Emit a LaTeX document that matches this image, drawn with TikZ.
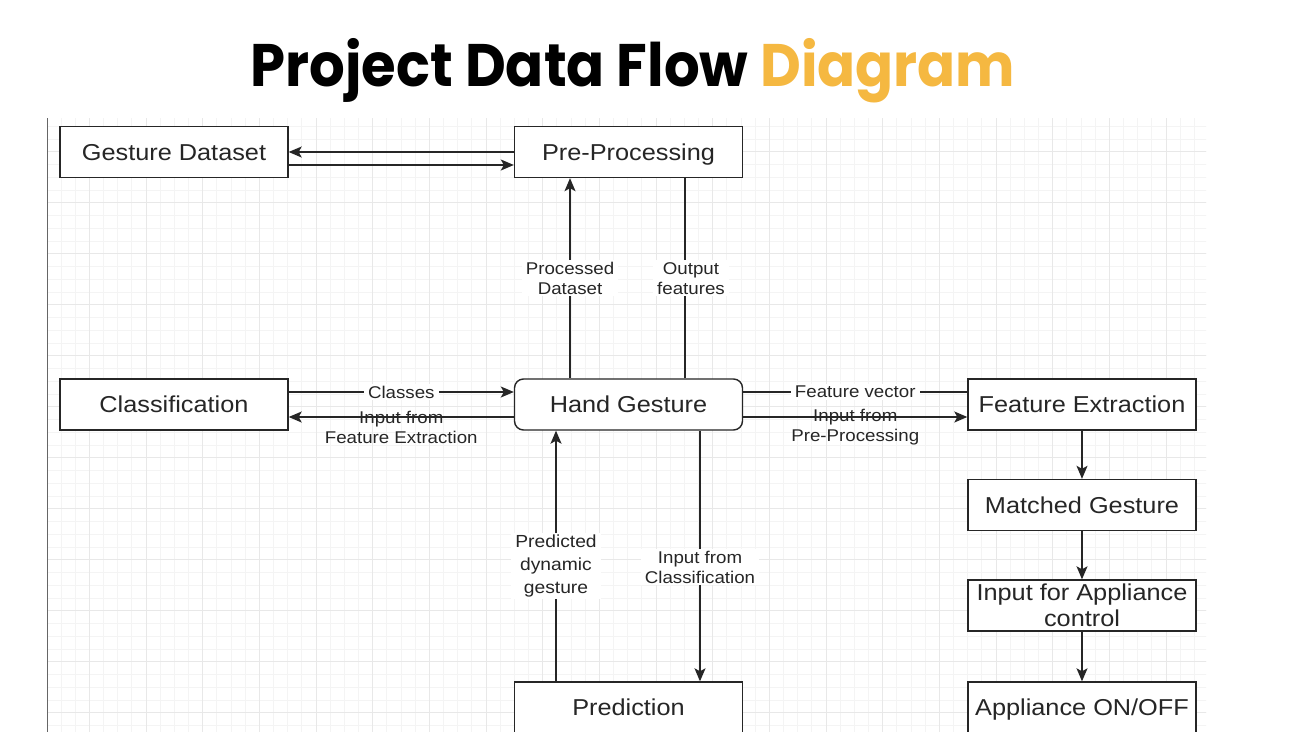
\documentclass[tikz,border=0pt]{standalone}
\usepackage{fontspec}
\setmainfont{Liberation Sans}[FakeStretch=1.1]
\newfontfamily\titlefont{Poppins}
\usetikzlibrary{arrows.meta}
\definecolor{ttlorange}{HTML}{F5B841}
\definecolor{ink}{HTML}{262626}
\definecolor{gridminor}{HTML}{F4F4F4}
\definecolor{gridmajor}{HTML}{E8E8E8}
\begin{document}
\begin{tikzpicture}[x=1pt,y=-1pt,
  boxbase/.style={draw=ink, line width=1.4pt, fill=white, minimum width=228pt, minimum height=51pt, inner sep=0pt, text=ink, font=\fontsize{23}{26}\selectfont, align=center},
  box/.style={boxbase, text height=16.5pt, text depth=0pt},
  rbox/.style={box, rounded corners=9pt},
  conn/.style={draw=ink, line width=1.4pt},
  arr/.style={conn, -{Stealth[length=13pt,width=11pt,inset=3pt]}},
  lbl/.style={fill=white, inner xsep=4pt, inner ysep=2pt, text=ink, font=\fontsize{17}{20}\selectfont, align=center},
  lblclear/.style={lbl, fill=none},
]
\useasboundingbox (0,0) rectangle (1290,750);
\fill[white] (0,0) rectangle (1290,750);
% title
\node[anchor=base, text=black, inner sep=0pt, font=\titlefont\bfseries\fontsize{60}{60}\selectfont] (title) at (633,86.7) {\scalebox{0.935}[1]{Project Data Flow \textcolor{ttlorange}{Diagram}}};
% grid
\begin{scope}
  \clip (47,118) rectangle (1206,731.5);
  \foreach \i in {0,...,82} \draw[gridminor, line width=0.8pt] ({46.83+\i*14.1667},118) -- ++(0,620);
  \foreach \j in {0,...,49} \draw[gridminor, line width=0.8pt] (47,{126.2+\j*12.75}) -- ++(1160,0);
  \foreach \i in {0,...,20} \draw[gridmajor, line width=0.8pt] ({89.33+\i*56.667},118) -- ++(0,620);
  \foreach \j in {0,...,11} \draw[gridmajor, line width=0.8pt] (47,{151.7+\j*51}) -- ++(1160,0);
\end{scope}
\draw[color=black!60, line width=1pt] (47.5,118) -- (47.5,731.5);
\begin{scope}
  \clip (0,0) rectangle (1290,731.5);
  \node[box] (gd) at (174,152) {Gesture Dataset};
  \node[box] (pp) at (628.5,152) {Pre-Processing};
  \node[box] (cl) at (174,404.5) {Classification};
  \node[rbox] (hg) at (628.5,404.5) {Hand Gesture};
  \node[box] (fe) at (1082,404.5) {Feature Extraction};
  \node[box] (mg) at (1082,505) {Matched Gesture};
  \node[boxbase] (ia) at (1082,605.5) {Input for Appliance\\control};
  \node[box] (ao) at (1082,707.5) {Appliance ON/OFF};
  \node[box] (pr) at (628.5,707.5) {Prediction};
  % connectors
  \draw[arr] (pp.west) -- (gd.east);
  \draw[arr] ([yshift=-13pt]gd.east) -- ([yshift=-13pt]pp.west);
  \draw[arr] ([xshift=-58.5pt]hg.north) -- node[lbl]{Processed\\Dataset} ([xshift=-58.5pt]pp.south);
  \draw[conn] ([xshift=56.5pt]pp.south) -- node[lbl, xshift=6pt]{Output\\features} ([xshift=56.5pt]hg.north);
  \draw[arr] ([yshift=12.5pt]cl.east) -- node[lbl]{Classes} ([yshift=12.5pt]hg.west);
  \draw[arr] ([yshift=-12.5pt]hg.west) -- node[lblclear, yshift=-10pt]{Input from\\Feature Extraction} ([yshift=-12.5pt]cl.east);
  \draw[conn] ([yshift=12.5pt]hg.east) -- node[lbl]{Feature vector} ([yshift=12.5pt]fe.west);
  \draw[arr] ([yshift=-12.5pt]hg.east) -- node[lblclear, yshift=-10pt]{Input from\\Pre-Processing} ([yshift=-12.5pt]fe.west);
  \draw[arr] ([xshift=-72.5pt]pr.north) -- node[lbl, pos=0.46, font=\fontsize{17.5}{23}\selectfont]{Predicted\\dynamic\\gesture} ([xshift=-72.5pt]hg.south);
  \draw[arr] ([xshift=71.5pt]hg.south) -- node[lbl, pos=0.544]{Input from\\Classification} ([xshift=71.5pt]pr.north);
  \draw[arr] (fe) -- (mg);
  \draw[arr] (mg) -- (ia);
  \draw[arr] (ia) -- (ao);
\end{scope}
\end{tikzpicture}
\end{document}
